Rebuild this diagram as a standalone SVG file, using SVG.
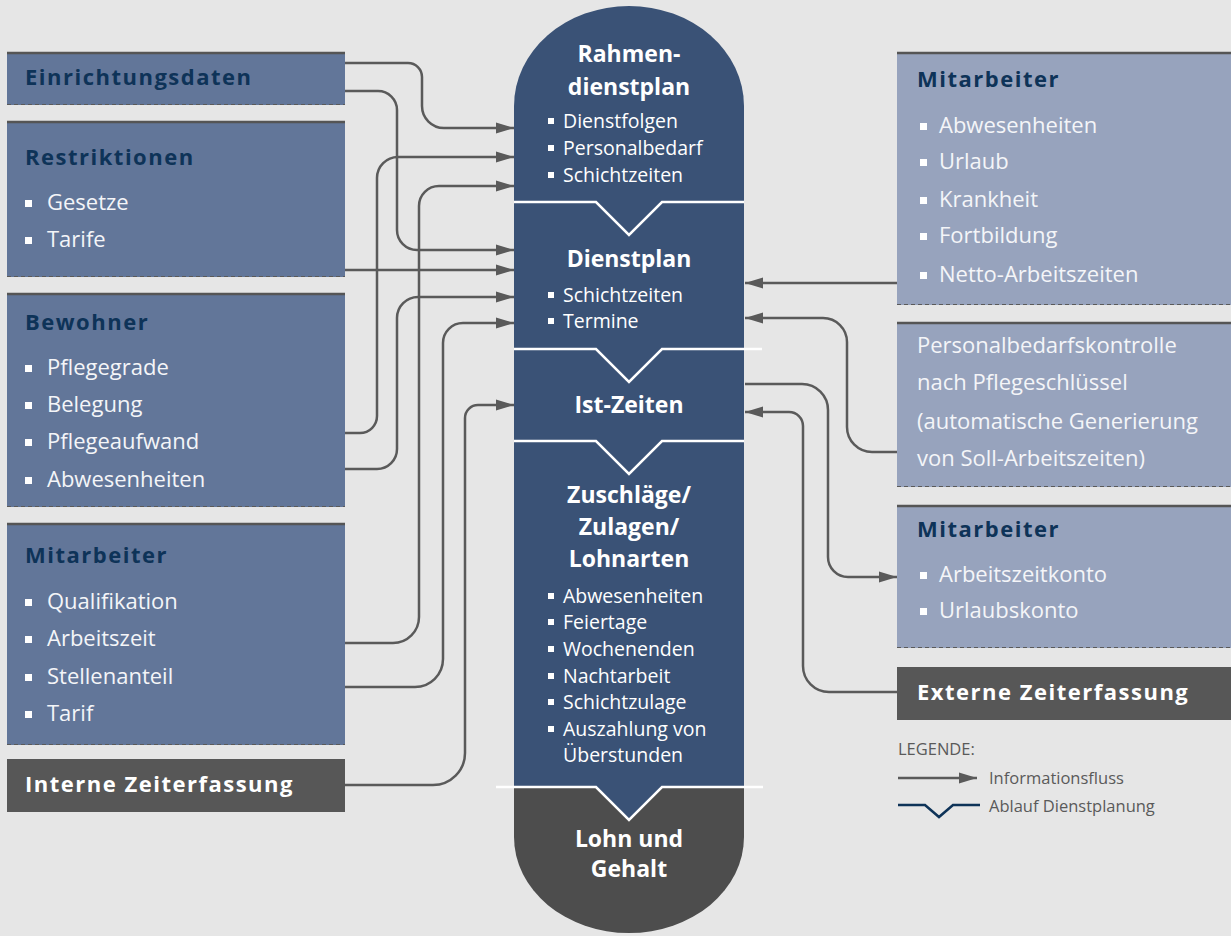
<svg xmlns="http://www.w3.org/2000/svg" width="1231" height="936" viewBox="0 0 1231 936">
<style>
text{font-family:"Open Sans","Noto Sans","Liberation Sans",sans-serif}
.lbox{fill:#627699}
.rbox{fill:#97a3bd}
.dbox{fill:#575757}
.topb{stroke:#555;stroke-width:2.5}
.botb{stroke:#5a5a5a;stroke-width:1.2;stroke-dasharray:4 3}
.ttl{font-weight:bold;font-size:22px;letter-spacing:1.5px;fill:#0e3358}
.itm{font-size:22px;fill:#f4f5f8}
.dtl{font-weight:bold;font-size:22px;letter-spacing:1.5px;fill:#fff}
.ctl{font-weight:bold;font-size:23px;fill:#fff;text-anchor:middle}
.cit{font-size:19.5px;fill:#fff}
.bl{fill:#fff}
.con{fill:none;stroke:#5a5a5a;stroke-width:2.5}
.div{fill:none;stroke:#fff;stroke-width:2.5}
.leg{font-size:16.5px;fill:#5a5a5a}
</style>
<defs>
<marker id="ah" markerUnits="userSpaceOnUse" markerWidth="18" markerHeight="12" refX="18" refY="6" orient="auto">
<path d="M0,0.5 L18,6 L0,11.5 Z" fill="#5a5a5a"/>
</marker>
</defs>
<rect width="1231" height="936" fill="#e6e6e6"/>

<g id="column">
<path d="M514,787 V106 A115,100 0 0 1 744,106 V787 Z" fill="#3a5276"/>
<path d="M514,787 V837 A115,96 0 0 0 744,837 V787 Z" fill="#4d4d4d"/>
<path d="M596,787 L629,820 L662,787 Z" fill="#3a5276"/>
<path class="div" d="M514,202 H596 L629,235 L662,202 H744"/>
<path class="div" d="M514,349 H596 L629,382 L662,349 H762"/>
<path class="div" d="M514,441 H596 L629,474 L662,441 H744"/>
<path class="div" d="M496,787 H596 L629,820 L662,787 H763"/>
</g>

<g id="rahmendienstplan">
<text class="ctl" x="629" y="62">Rahmen-</text>
<text class="ctl" x="629" y="95">dienstplan</text>
<rect class="bl" x="548" y="118" width="6" height="6"/><text class="cit" x="563" y="128">Dienstfolgen</text>
<rect class="bl" x="548" y="145" width="6" height="6"/><text class="cit" x="563" y="155">Personalbedarf</text>
<rect class="bl" x="548" y="172" width="6" height="6"/><text class="cit" x="563" y="182">Schichtzeiten</text>
</g>
<g id="dienstplan">
<text class="ctl" x="629" y="267">Dienstplan</text>
<rect class="bl" x="548" y="292" width="6" height="6"/><text class="cit" x="563" y="302">Schichtzeiten</text>
<rect class="bl" x="548" y="318" width="6" height="6"/><text class="cit" x="563" y="328">Termine</text>
</g>
<g id="istzeiten">
<text class="ctl" x="629" y="413">Ist-Zeiten</text>
</g>
<g id="zuschlaege">
<text class="ctl" x="629" y="503">Zuschläge/</text>
<text class="ctl" x="629" y="535">Zulagen/</text>
<text class="ctl" x="629" y="567">Lohnarten</text>
<rect class="bl" x="548" y="593" width="6" height="6"/><text class="cit" x="563" y="603">Abwesenheiten</text>
<rect class="bl" x="548" y="619" width="6" height="6"/><text class="cit" x="563" y="629">Feiertage</text>
<rect class="bl" x="548" y="646" width="6" height="6"/><text class="cit" x="563" y="656">Wochenenden</text>
<rect class="bl" x="548" y="673" width="6" height="6"/><text class="cit" x="563" y="683">Nachtarbeit</text>
<rect class="bl" x="548" y="699" width="6" height="6"/><text class="cit" x="563" y="709">Schichtzulage</text>
<rect class="bl" x="548" y="726" width="6" height="6"/><text class="cit" x="563" y="736">Auszahlung von</text>
<text class="cit" x="563" y="762">Überstunden</text>
</g>
<g id="lohn">
<text class="ctl" x="629" y="847">Lohn und</text>
<text class="ctl" x="629" y="877">Gehalt</text>
</g>

<g id="einrichtungsdaten">
<rect class="lbox" x="7" y="52" width="338" height="53"/>
<line class="topb" x1="7" y1="53" x2="345" y2="53"/>
<line class="botb" x1="7" y1="104.5" x2="345" y2="104.5"/>
<text class="ttl" x="25" y="85">Einrichtungsdaten</text>
</g>
<g id="restriktionen">
<rect class="lbox" x="7" y="121" width="338" height="156"/>
<line class="topb" x1="7" y1="122" x2="345" y2="122"/>
<line class="botb" x1="7" y1="276.5" x2="345" y2="276.5"/>
<text class="ttl" x="25" y="165">Restriktionen</text>
<rect class="bl" x="25" y="200" width="7" height="7"/><text class="itm" x="47" y="210">Gesetze</text>
<rect class="bl" x="25" y="237" width="7" height="7"/><text class="itm" x="47" y="247">Tarife</text>
</g>
<g id="bewohner">
<rect class="lbox" x="7" y="293" width="338" height="214"/>
<line class="topb" x1="7" y1="294" x2="345" y2="294"/>
<line class="botb" x1="7" y1="506.5" x2="345" y2="506.5"/>
<text class="ttl" x="25" y="330">Bewohner</text>
<rect class="bl" x="25" y="365" width="7" height="7"/><text class="itm" x="47" y="375">Pflegegrade</text>
<rect class="bl" x="25" y="402" width="7" height="7"/><text class="itm" x="47" y="412">Belegung</text>
<rect class="bl" x="25" y="439" width="7" height="7"/><text class="itm" x="47" y="449">Pflegeaufwand</text>
<rect class="bl" x="25" y="477" width="7" height="7"/><text class="itm" x="47" y="487">Abwesenheiten</text>
</g>
<g id="mitarbeiter-links">
<rect class="lbox" x="7" y="523" width="338" height="222"/>
<line class="topb" x1="7" y1="524" x2="345" y2="524"/>
<line class="botb" x1="7" y1="744.5" x2="345" y2="744.5"/>
<text class="ttl" x="25" y="563">Mitarbeiter</text>
<rect class="bl" x="25" y="599" width="7" height="7"/><text class="itm" x="47" y="609">Qualifikation</text>
<rect class="bl" x="25" y="636" width="7" height="7"/><text class="itm" x="47" y="646">Arbeitszeit</text>
<rect class="bl" x="25" y="674" width="7" height="7"/><text class="itm" x="47" y="684">Stellenanteil</text>
<rect class="bl" x="25" y="711" width="7" height="7"/><text class="itm" x="47" y="721">Tarif</text>
</g>
<g id="interne">
<rect class="dbox" x="7" y="759" width="338" height="53"/>
<text class="dtl" x="25" y="792">Interne Zeiterfassung</text>
</g>

<g id="mitarbeiter-rechts">
<rect class="rbox" x="897" y="52" width="334" height="253"/>
<line class="topb" x1="897" y1="53" x2="1231" y2="53"/>
<line class="botb" x1="897" y1="304.5" x2="1231" y2="304.5"/>
<text class="ttl" x="917" y="87">Mitarbeiter</text>
<rect class="bl" x="920" y="123" width="7" height="7"/><text class="itm" x="939" y="133">Abwesenheiten</text>
<rect class="bl" x="920" y="159" width="7" height="7"/><text class="itm" x="939" y="169">Urlaub</text>
<rect class="bl" x="920" y="197" width="7" height="7"/><text class="itm" x="939" y="207">Krankheit</text>
<rect class="bl" x="920" y="233" width="7" height="7"/><text class="itm" x="939" y="243">Fortbildung</text>
<rect class="bl" x="920" y="272" width="7" height="7"/><text class="itm" x="939" y="282">Netto-Arbeitszeiten</text>
</g>
<g id="personalbedarfskontrolle">
<rect class="rbox" x="897" y="322" width="334" height="165"/>
<line class="topb" x1="897" y1="323" x2="1231" y2="323"/>
<line class="botb" x1="897" y1="486.5" x2="1231" y2="486.5"/>
<text class="itm" x="917" y="353">Personalbedarfskontrolle</text>
<text class="itm" x="917" y="390">nach Pflegeschlüssel</text>
<text class="itm" x="917" y="429">(automatische Generierung</text>
<text class="itm" x="917" y="466">von Soll-Arbeitszeiten)</text>
</g>
<g id="mitarbeiter-konto">
<rect class="rbox" x="897" y="505" width="334" height="143"/>
<line class="topb" x1="897" y1="506" x2="1231" y2="506"/>
<line class="botb" x1="897" y1="647.5" x2="1231" y2="647.5"/>
<text class="ttl" x="917" y="537">Mitarbeiter</text>
<rect class="bl" x="920" y="572" width="7" height="7"/><text class="itm" x="939" y="582">Arbeitszeitkonto</text>
<rect class="bl" x="920" y="608" width="7" height="7"/><text class="itm" x="939" y="618">Urlaubskonto</text>
</g>
<g id="externe">
<rect class="dbox" x="897" y="667" width="334" height="53"/>
<text class="dtl" x="917" y="700">Externe Zeiterfassung</text>
</g>

<g id="connectors">
<path class="con" marker-end="url(#ah)" d="M345,63 H408 A14,14 0 0 1 422,77 V106 A22,22 0 0 0 444,128 H514"/>
<path class="con" marker-end="url(#ah)" d="M345,91 H378 A19,19 0 0 1 397,110 V230 A20,20 0 0 0 417,250 H514"/>
<path class="con" marker-end="url(#ah)" d="M345,270 H514"/>
<path class="con" marker-end="url(#ah)" d="M345,433 H360 A17,17 0 0 0 377,416 V178 A21,21 0 0 1 398,157 H514"/>
<path class="con" marker-end="url(#ah)" d="M345,469 H377 A20,20 0 0 0 397,449 V318 A21,21 0 0 1 418,297 H514"/>
<path class="con" marker-end="url(#ah)" d="M345,643 H393 A26,26 0 0 0 419,617 V206 A20,20 0 0 1 439,186 H514"/>
<path class="con" marker-end="url(#ah)" d="M345,687 H415 A28,28 0 0 0 443,659 V343 A20,20 0 0 1 463,323 H514"/>
<path class="con" marker-end="url(#ah)" d="M345,785 H433 A32,32 0 0 0 465,753 V418 A13,13 0 0 1 478,405 H514"/>
<path class="con" marker-end="url(#ah)" d="M897,283 H745"/>
<path class="con" marker-end="url(#ah)" d="M897,452 H872 A25,25 0 0 1 847,427 V342 A24,24 0 0 0 823,318 H745"/>
<path class="con" marker-end="url(#ah)" d="M745,384 H802 A26,26 0 0 1 828,410 V557 A20,20 0 0 0 848,577 H897"/>
<path class="con" marker-end="url(#ah)" d="M897,692 H829 A26,26 0 0 1 803,666 V426 A14,14 0 0 0 789,412 H745"/>
</g>

<g id="legende">
<text class="leg" x="898" y="755">LEGENDE:</text>
<path class="con" marker-end="url(#ah)" d="M898,778 H977"/>
<text class="leg" x="989" y="784">Informationsfluss</text>
<path d="M898,805 H925 L939,817 L953,805 H980" fill="none" stroke="#0e3358" stroke-width="2.5"/>
<text class="leg" x="989" y="812">Ablauf Dienstplanung</text>
</g>
</svg>
